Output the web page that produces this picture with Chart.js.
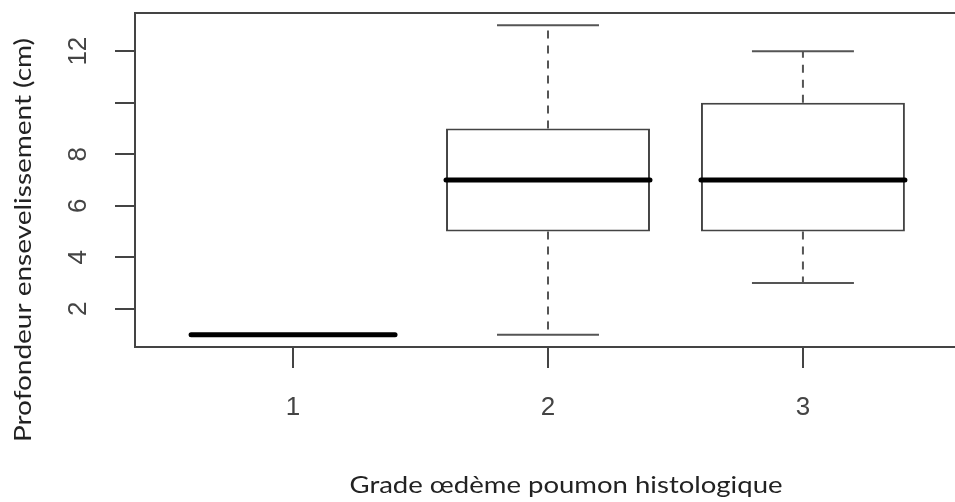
<!DOCTYPE html>
<html>
<head>
<meta charset="utf-8">
<script src="https://cdn.jsdelivr.net/npm/chart.js@4/dist/chart.umd.min.js"></script>
<style>
  html, body { margin: 0; padding: 0; background: #fff; overflow: hidden; }
  #wrap { width: 965px; height: 502px; }
</style>
</head>
<body>
<div id="wrap"><canvas id="boxChart" width="965" height="502"></canvas></div>
<script>
// boxplot stats
const groups = [1, 2, 3];
const groupLabels = ['1', '2', '3'];
const mins = [1, 1, 3];
const q1s = [1, 5, 5];
const medians = [1, 7, 7];
const q3s = [1, 9, 10];
const maxs = [1, 13, 12];
const yTicks = [2, 4, 6, 8, 10, 12];
const yTickLabels = ['2', '4', '6', '8', '', '12'];

const xTitle = 'Grade œdème poumon histologique';
const yTitle = 'Profondeur ensevelissement (cm)';

const BOX_W = 0.8;
const CAP_W = 0.4;
const TICK_FONT = '26px "Liberation Sans", Arial, sans-serif';
const TITLE_FONT = '23px Lato, "Open Sans", sans-serif';

// draw text stretched to a given width (the scan is stretched sideways)
function stretchedText(ctx, text, cx, cy, width, angle) {
  const w = ctx.measureText(text).width;
  ctx.save();
  ctx.translate(cx, cy);
  ctx.rotate(angle);
  ctx.scale(width / w, 1);
  ctx.fillText(text, 0, 0);
  ctx.restore();
}

const boxPlugin = {
  id: 'boxPlugin',
  afterDatasetsDraw(chart) {
    const { ctx, chartArea: a, scales: { x, y } } = chart;
    ctx.save();
    groups.forEach((g, i) => {
      const cx = x.getPixelForValue(g);
      const yTop = y.getPixelForValue(q3s[i]);
      const yBot = y.getPixelForValue(q1s[i]);
      // whiskers
      ctx.strokeStyle = '#555';
      ctx.lineWidth = 2;
      ctx.setLineDash([8, 7]);
      ctx.beginPath();
      ctx.moveTo(cx, yTop);
      ctx.lineTo(cx, y.getPixelForValue(maxs[i]));
      ctx.moveTo(cx, yBot);
      ctx.lineTo(cx, y.getPixelForValue(mins[i]));
      ctx.stroke();
      ctx.setLineDash([]);
      // caps
      const c0 = x.getPixelForValue(g - CAP_W / 2);
      const c1 = x.getPixelForValue(g + CAP_W / 2);
      ctx.beginPath();
      ctx.moveTo(c0, y.getPixelForValue(maxs[i]));
      ctx.lineTo(c1, y.getPixelForValue(maxs[i]));
      ctx.moveTo(c0, y.getPixelForValue(mins[i]));
      ctx.lineTo(c1, y.getPixelForValue(mins[i]));
      ctx.stroke();
      // median
      ctx.strokeStyle = '#000';
      ctx.lineWidth = 5;
      ctx.lineCap = 'round';
      ctx.beginPath();
      ctx.moveTo(x.getPixelForValue(g - BOX_W / 2), y.getPixelForValue(medians[i]));
      ctx.lineTo(x.getPixelForValue(g + BOX_W / 2), y.getPixelForValue(medians[i]));
      ctx.stroke();
      ctx.lineCap = 'butt';
    });
    // frame
    ctx.strokeStyle = '#444';
    ctx.lineWidth = 2;
    ctx.strokeRect(a.left, a.top, a.right - a.left, a.bottom - a.top);
    // y tick labels, rotated like R
    ctx.fillStyle = '#444';
    ctx.font = TICK_FONT;
    ctx.textAlign = 'center';
    ctx.textBaseline = 'middle';
    y.ticks.forEach((t, i) => {
      const py = y.getPixelForValue(t.value);
      ctx.save();
      ctx.translate(79, py);
      ctx.rotate(-Math.PI / 2);
      ctx.fillText(yTickLabels[i], 0, 0);
      ctx.restore();
    });
    // axis titles
    ctx.fillStyle = '#222';
    ctx.font = TITLE_FONT;
    stretchedText(ctx, xTitle, 566, 486, 433, 0);
    stretchedText(ctx, yTitle, 24, 240, 404, -Math.PI / 2);
    ctx.restore();
  }
};

new Chart(document.getElementById('boxChart'), {
  type: 'bar',
  data: {
    datasets: [{
      data: groups.map((g, i) => ({ x: g, y: [q1s[i], q3s[i]] })),
      backgroundColor: '#fff',
      borderColor: '#444',
      borderWidth: 2,
      borderSkipped: false,
      barPercentage: 1,
      categoryPercentage: BOX_W
    }]
  },
  options: {
    responsive: false,
    animation: false,
    layout: { padding: { top: 13, right: 4, left: 0, bottom: 0 } },
    plugins: { legend: { display: false }, tooltip: { enabled: false } },
    scales: {
      x: {
        type: 'linear',
        min: 0.38,
        max: 3.62,
        offset: false,
        afterBuildTicks: (s) => { s.ticks = groups.map((v) => ({ value: v })); },
        afterFit: (s) => { s.height = 155; },
        grid: { offset: false, drawOnChartArea: false, drawTicks: true, tickLength: 21, tickColor: '#444', lineWidth: 2 },
        border: { display: false },
        ticks: {
          padding: 24,
          color: '#444',
          maxRotation: 0,
          font: { family: '"Liberation Sans", Arial, sans-serif', size: 26 },
          callback: (v) => groupLabels[groups.indexOf(v)]
        }
      },
      y: {
        min: 0.52,
        max: 13.48,
        afterBuildTicks: (s) => { s.ticks = yTicks.map((v) => ({ value: v })); },
        afterFit: (s) => { s.width = 135; },
        grid: { drawOnChartArea: false, drawTicks: true, tickLength: 20, tickColor: '#444', lineWidth: 2 },
        border: { display: false },
        ticks: { display: false }
      }
    }
  },
  plugins: [boxPlugin]
});
</script>
</body>
</html>
